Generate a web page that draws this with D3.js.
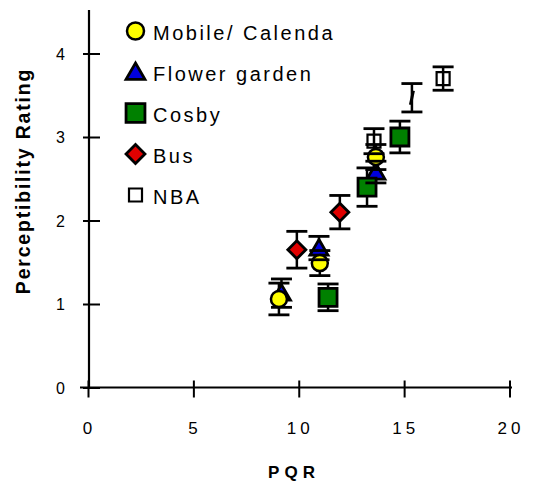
<!DOCTYPE html>
<html>
<head>
<meta charset="utf-8">
<script src="https://cdn.jsdelivr.net/npm/d3@7"></script>
<style>
  html, body { margin: 0; padding: 0; background: #ffffff; }
  svg { display: block; font-family: "Liberation Sans", Arial, sans-serif; }
</style>
</head>
<body>
<svg id="chart" width="540" height="483"></svg>
<script>
// ---- data ----
const seriesNames = ["Mobile/ Calenda", "Flower garden", "Cosby", "Bus", "NBA"];
const mobileX   = [9.06, 11.0, 13.66];
const mobileY   = [1.06, 1.49, 2.76];
const mobileErr = [0.19, 0.15, 0.15];
const flowerX   = [9.18, 10.96, 13.66];
const flowerY   = [1.13, 1.67, 2.58];
const flowerErr = [0.17, 0.14, 0.13];
const cosbyX    = [11.39, 13.24, 14.8];
const cosbyY    = [1.08, 2.40, 3.0];
const cosbyErr  = [0.16, 0.23, 0.19];
const busX      = [9.91, 11.95];
const busY      = [1.65, 2.10];
const busErr    = [0.22, 0.20];
const nbaX      = [13.57, 15.37, 16.85];
const nbaY      = [2.95, 3.47, 3.70];
const nbaErr    = [0.15, 0.17, 0.14];
const xTicks = [0, 5, 10, 15, 20];
const yTicks = [0, 1, 2, 3, 4];
const xTitle = "PQR";
const yTitle = "Perceptibility Rating";

// ---- styles ----
const styles = {
  "Mobile/ Calenda": { shape: "circle",   fill: "#ffff00" },
  "Flower garden":   { shape: "triangle", fill: "#0000dd" },
  "Cosby":           { shape: "square",   fill: "#008000" },
  "Bus":             { shape: "diamond",  fill: "#e00000" },
  "NBA":             { shape: "hollow",   fill: "none" }
};
const seriesData = [
  { name: seriesNames[1], x: flowerX, y: flowerY, e: flowerErr },
  { name: seriesNames[0], x: mobileX, y: mobileY, e: mobileErr },
  { name: seriesNames[2], x: cosbyX,  y: cosbyY,  e: cosbyErr },
  { name: seriesNames[3], x: busX,    y: busY,    e: busErr },
  { name: seriesNames[4], x: nbaX,    y: nbaY,    e: nbaErr }
];
const points = [];
seriesData.forEach(s => s.x.forEach((xv, i) => points.push({ name: s.name, x: xv, y: s.y[i], e: s.e[i], i })));

const svg = d3.select("#chart");
const x = d3.scaleLinear().domain([0, 20]).range([88, 509.5]);
const y = d3.scaleLinear().domain([0, 4]).range([387.5, 53.5]);

function shapePath(shape, big) {
  const k = big ? 1.05 : 1;
  switch (shape) {
    case "triangle": return `M0,${-8.5*k}L${9*k},${7*k}L${-9*k},${7*k}Z`;
    case "square":   return `M${-9*k},${-9*k}h${18*k}v${18*k}h${-18*k}Z`;
    case "diamond":  return `M0,${-9*k}L${9*k},0L0,${9*k}L${-9*k},0Z`;
    case "hollow":   return `M-6.5,-6.5h13v13h-13Z`;
    default: return null;
  }
}
function drawMarker(g, name, cx, cy, legend, collapsed) {
  const st = styles[name];
  if (collapsed) {
    g.append("line").attr("x1", cx + 1.5).attr("y1", cy - 7).attr("x2", cx - 1.5).attr("y2", cy + 7)
      .attr("stroke", "#000").attr("stroke-width", 3);
    return;
  }
  if (st.shape === "circle") {
    g.append("circle").attr("cx", cx).attr("cy", cy).attr("r", legend ? 8.5 : 8)
      .attr("fill", st.fill).attr("stroke", "#000").attr("stroke-width", 2.5);
  } else {
    g.append("path").attr("d", shapePath(st.shape, legend))
      .attr("transform", `translate(${cx},${cy})`)
      .attr("fill", st.shape === "hollow" ? (legend ? "#fff" : "none") : st.fill)
      .attr("stroke", "#000").attr("stroke-width", st.shape === "hollow" ? 2.2 : 2.8)
      .attr("stroke-linejoin", "miter");
  }
}

// ---- axes ----
const gx = svg.append("g").attr("transform", `translate(0,${y(0)})`)
  .call(d3.axisBottom(x).tickValues(xTicks).tickSize(0).tickPadding(0).tickFormat(d3.format("d")));
gx.select(".domain").remove();
gx.selectAll(".tick line").attr("y1", -7).attr("y2", 10).attr("stroke", "#000").attr("stroke-width", 2);
gx.selectAll(".tick text").attr("y", 46.5).attr("dy", 0).attr("dx", 1)
  .attr("font-size", 17).attr("letter-spacing", 4).attr("fill", "#000")
  .attr("font-family", "Liberation Sans, Arial, sans-serif");
svg.append("line").attr("x1", 80).attr("x2", 512).attr("y1", y(0)).attr("y2", y(0))
  .attr("stroke", "#000").attr("stroke-width", 2.2);

const gy = svg.append("g").attr("transform", `translate(89,0)`)
  .call(d3.axisLeft(y).tickValues(yTicks).tickSize(0).tickPadding(0).tickFormat(d3.format("d")));
gy.select(".domain").remove();
gy.selectAll(".tick line").attr("x1", -6).attr("x2", 11).attr("stroke", "#000").attr("stroke-width", 2);
gy.selectAll(".tick text").attr("x", -24).attr("dy", "0.35em")
  .attr("font-size", 16).attr("fill", "#000")
  .attr("font-family", "Liberation Sans, Arial, sans-serif");
svg.append("line").attr("x1", 89).attr("x2", 89).attr("y1", 10).attr("y2", y(0) + 1)
  .attr("stroke", "#000").attr("stroke-width", 2.2);

// titles
svg.append("text").attr("x", 294).attr("y", 478).attr("text-anchor", "middle")
  .attr("font-size", 17).attr("font-weight", "bold").attr("letter-spacing", 5).text(xTitle);
svg.append("text").attr("transform", "translate(30,181) rotate(-90)").attr("text-anchor", "middle")
  .attr("font-size", 19.5).attr("font-weight", "bold").attr("letter-spacing", 1.8).text(yTitle);

// ---- error bars & markers ----
const plot = svg.append("g");
const capW = 10.5;
plot.selectAll("line.ev").data(points).join("line").attr("class", "ev")
  .attr("x1", d => x(d.x)).attr("x2", d => x(d.x))
  .attr("y1", d => y(d.y + d.e)).attr("y2", d => y(d.y - d.e))
  .attr("stroke", "#000").attr("stroke-width", 2.5);
const mk = plot.append("g");
points.forEach(d => drawMarker(mk, d.name, x(d.x), y(d.y), false, d.name === "NBA" && d.i === 1));
const caps = [];
points.forEach(d => { caps.push({ x: d.x, y: d.y + d.e }); caps.push({ x: d.x, y: d.y - d.e }); });
plot.selectAll("line.cap").data(caps).join("line").attr("class", "cap")
  .attr("x1", d => x(d.x) - capW).attr("x2", d => x(d.x) + capW)
  .attr("y1", d => y(d.y)).attr("y2", d => y(d.y))
  .attr("stroke", "#000").attr("stroke-width", 2.8);

// ---- legend ----
const lg = svg.append("g");
seriesNames.forEach((n, i) => {
  const cy = 31 + i * 41;
  drawMarker(lg, n, 135.5, cy, true, false);
  lg.append("text").attr("x", 153).attr("y", cy + 9)
    .attr("font-size", 20).attr("letter-spacing", 2.5).attr("fill", "#000").text(n);
});
</script>
</body>
</html>
